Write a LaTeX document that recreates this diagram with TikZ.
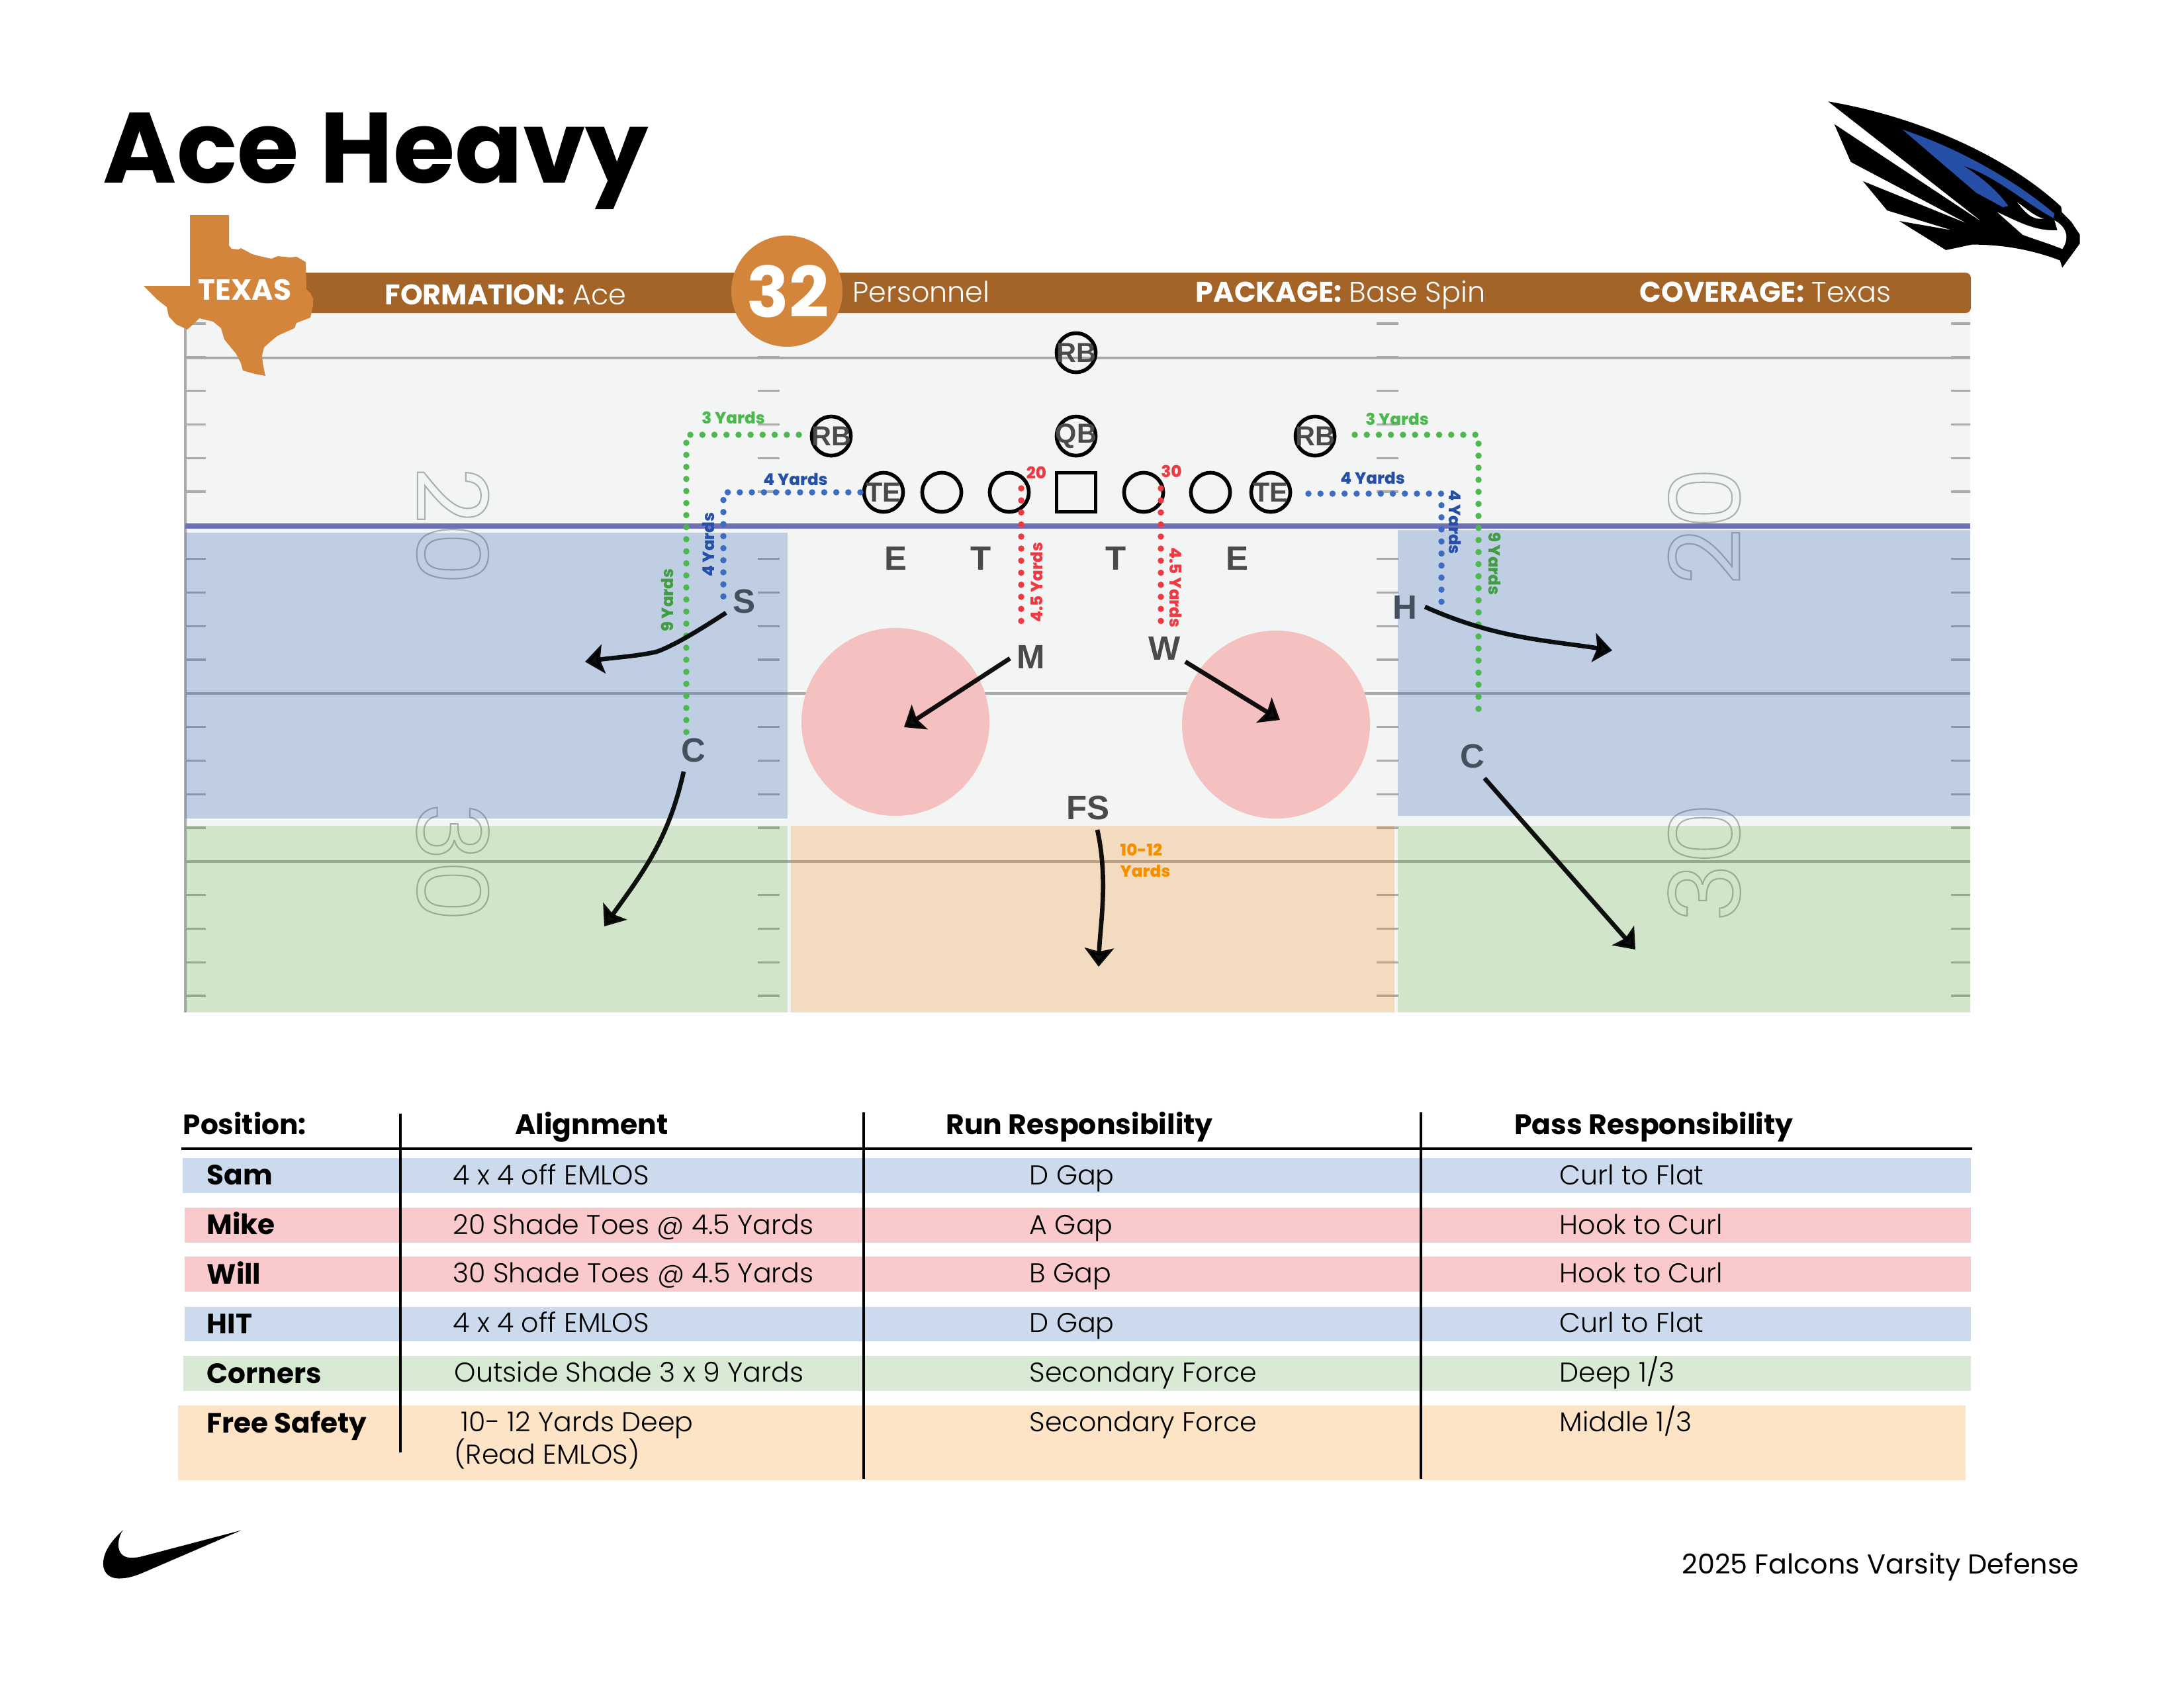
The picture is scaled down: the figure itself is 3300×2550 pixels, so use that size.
\documentclass[tikz,border=0pt]{standalone}
\usepackage{fontspec}
\setmainfont{Poppins}
\newfontfamily\lightfont{Poppins Light}
\newfontfamily\heavyfont{Poppins ExtraBold}
\newfontfamily\markfont{Liberation Sans}
\usetikzlibrary{arrows.meta, shapes.geometric, positioning}
\definecolor{fieldgray}{HTML}{F3F5F5}
\definecolor{linegray}{HTML}{A9ABAB}
\definecolor{headerbrown}{HTML}{A46327}
\definecolor{texasorange}{HTML}{D4853C}
\definecolor{losblue}{HTML}{6F70B5}
\definecolor{zoneblue}{RGB}{47,95,176}
\definecolor{zonegreen}{RGB}{73,165,30}
\definecolor{zoneorange}{RGB}{245,130,0}
\definecolor{zonepink}{HTML}{F5C0C0}
\definecolor{dotgreen}{HTML}{4DB84D}
\definecolor{dotblue}{HTML}{3B6CBF}
\definecolor{dotred}{HTML}{EE3A43}
\definecolor{markgray}{HTML}{4A4A4A}
\definecolor{markslate}{HTML}{45505F}
\definecolor{rowblue}{HTML}{CBDAED}
\definecolor{rowpink}{HTML}{F9C9CC}
\definecolor{rowgreen}{HTML}{D9EAD4}
\definecolor{roworange}{HTML}{FEE4C6}
\definecolor{falconblue}{HTML}{2650A8}
\newcommand{\outlinetext}[1]{\special{pdf:code 1 Tr 0.6 w 0.68 0.69 0.69 RG}#1\special{pdf:code 0 Tr}}
\tikzset{
  player/.style={inner sep=0pt, text=markgray, font=\markfont\bfseries\fontsize{11.8}{13}\selectfont},
  ring/.style={draw=black, line width=1.6pt},
  lineman/.style={circle, ring, minimum size=0.59cm, inner sep=0pt},
  defender/.style={text=markgray, inner sep=0pt, font=\markfont\bfseries\fontsize{14.5}{15}\selectfont},
  zone/.style={fill opacity=#1},
  dotpath/.style={line width=2.7pt, line cap=round, dash pattern=on 0pt off 5.18pt},
  yardtag/.style={inner sep=0pt, font=\heavyfont\fontsize{7}{8}\selectfont},
  fieldnum/.style={inner sep=0pt, transform shape, font=\fontsize{42}{42}\selectfont},
  route/.style={line width=1.9pt, draw=black, draw opacity=0.93, fill opacity=0.93, -{Stealth[length=8pt,width=12.5pt,inset=1.5pt]}},
  headerlabel/.style={anchor=base west, inner sep=0pt, text=white, font=\fontsize{12.2}{14}\selectfont},
  colhead/.style={anchor=base, inner sep=0pt, font=\bfseries\fontsize{12.1}{14}\selectfont},
  rowname/.style={anchor=base west, inner sep=0pt, font=\bfseries\fontsize{12}{14}\selectfont},
  rowtext/.style={anchor=base west, inner sep=0pt, font=\lightfont\fontsize{11.7}{14}\selectfont},
}
\begin{document}
\begin{tikzpicture}[x=0.01cm, y=-0.01cm]
\useasboundingbox (0,0) rectangle (3300,2550);
\node[anchor=base west, inner sep=0pt, font=\bfseries\fontsize{43}{50}\selectfont] (title) at (155,276) {Ace Heavy};
% field
\fill[fieldgray] (280,473) rectangle (2977,1530);
\foreach \yy in {541,1048,1302} {
  \draw[linegray, line width=1.4pt] (280,\yy) -- (2977,\yy);
}
\draw[linegray, line width=1pt] (280,473) -- (280,1530);
\foreach \k in {0,...,20} {
  \draw[linegray, line width=0.9pt] (281,489+50.8*\k) -- (311,489+50.8*\k);
  \draw[linegray, line width=0.9pt] (1145,489+50.8*\k) -- (1178,489+50.8*\k);
  \draw[linegray, line width=0.9pt] (2080,489+50.8*\k) -- (2113,489+50.8*\k);
  \draw[linegray, line width=0.9pt] (2948,489+50.8*\k) -- (2977,489+50.8*\k);
}
\node[fieldnum, rotate=-90] (numa) at (684,795) {\outlinetext{20}};
\node[fieldnum, rotate=-90] (numb) at (684,1303) {\outlinetext{30}};
\node[fieldnum, rotate=90] (numc) at (2575,795) {\outlinetext{20}};
\node[fieldnum, rotate=90] (numd) at (2575,1303) {\outlinetext{30}};
% zones
\fill[zoneblue, zone=0.26] (280,805) rectangle (1190,1237);
\fill[zoneblue, zone=0.26] (2112,801) rectangle (2977,1233);
\fill[zonegreen, zone=0.2] (280,1248) rectangle (1190,1530);
\fill[zoneorange, zone=0.22] (1195,1248) rectangle (2107,1530);
\fill[zonegreen, zone=0.2] (2112,1248) rectangle (2977,1530);
\fill[zonepink] (1353,1091) circle (142);
\fill[zonepink] (1928,1095) circle (142);
\draw[losblue, line width=2.3pt] (280,795) -- (2977,795);
% offense
\foreach \pl/\xx/\yy/\txt in {rbtop/1626/533/RB, qb/1626/659/QB, rbl/1256/659/RB, rbr/1987/659/RB, tel/1335/744/TE, ter/1920/744/TE} {
  \draw[ring] (\xx,\yy) circle (29.5);
  \node[player] (\pl) at (\xx,\yy) {\txt};
}
\node[lineman] (ola) at (1423,744) {};
\node[lineman] (olb) at (1525,744) {};
\node[lineman, rectangle] (ctr) at (1626,744) {};
\node[lineman] (olc) at (1728,744) {};
\node[lineman] (old) at (1829,744) {};
% defense
\node[defender] (dea) at (1353,844) {E};
\node[defender] (dta) at (1482,844) {T};
\node[defender] (dtb) at (1686,844) {T};
\node[defender] (deb) at (1869,844) {E};
\node[defender, text=markslate] (sam) at (1124,909) {S};
\node[defender] (mike) at (1558,993) {M};
\node[defender] (will) at (1760,980) {W};
\node[defender, text=markslate] (hit) at (2123,918) {H};
\node[defender, text=markslate] (cbl) at (1048,1134) {C};
\node[defender, text=markslate] (cbr) at (2225,1143) {C};
\node[defender] (fs) at (1644,1221) {FS};
% alignment marks
\draw[dotpath, dotgreen] (1207,657) -- (1037,657) -- (1037,1110);
\draw[dotpath, dotgreen] (2047,657) -- (2234,657) -- (2234,1080);
\draw[dotpath, dotblue] (1300,744) -- (1093,744) -- (1093,915);
\draw[dotpath, dotblue] (1977,746) -- (2178,746) -- (2178,912);
\draw[dotpath, dotred] (1543,738) -- (1543,956);
\draw[dotpath, dotred] (1754,738) -- (1754,956);
\node[yardtag, text=dotgreen] (tga) at (1108,631) {3 Yards};
\node[yardtag, text=dotgreen] (tgb) at (2111,633) {3 Yards};
\node[yardtag, text=falconblue] (tba) at (1202,724) {4 Yards};
\node[yardtag, text=falconblue] (tbb) at (2074,722) {4 Yards};
\node[yardtag, text=falconblue, rotate=90] (tbc) at (1070,823) {4 Yards};
\node[yardtag, text=falconblue, rotate=-90] (tbd) at (2198,789) {4 Yards};
\node[yardtag, text=dotgreen!85!black, rotate=90] (tgc) at (1008,907) {9 Yards};
\node[yardtag, text=dotgreen!85!black, rotate=-90] (tgd) at (2259,852) {9 Yards};
\node[yardtag, text=dotred, rotate=90] (tra) at (1566,880) {4.5 Yards};
\node[yardtag, text=dotred, rotate=-90] (trb) at (1776,888) {4.5 Yards};
\node[yardtag, text=dotred] (trc) at (1566,714) {20};
\node[yardtag, text=dotred] (trd) at (1770,712) {30};
\node[yardtag, text=zoneorange!90!yellow, anchor=west] (toa) at (1692,1284) {10-12};
\node[yardtag, text=zoneorange!90!yellow, anchor=west] (tob) at (1692,1316) {Yards};
% routes
\coordinate (sambend) at (992,985);
\coordinate (samend) at (884,1000);
\coordinate (mikeend) at (1366,1099);
\coordinate (willend) at (1934,1088);
\coordinate (hitend) at (2436,983);
\coordinate (cblend) at (913,1400);
\coordinate (cbrend) at (2471,1435);
\coordinate (fsend) at (1660,1461);
\draw[route] (1097,926) .. controls (1060,950) and (1020,975) .. (sambend) .. controls (960,992) and (925,994) .. (samend);
\draw[route] (1526,995) -- (mikeend);
\draw[route] (1791,1000) -- (willend);
\draw[route] (2153,917) .. controls (2260,965) and (2340,968) .. (hitend);
\draw[route] (1033,1166) .. controls (1010,1270) and (970,1320) .. (cblend);
\draw[route] (2243,1176) -- (cbrend);
\draw[route] (1658,1254) .. controls (1675,1330) and (1662,1400) .. (fsend);
% header
\fill[headerbrown, rounded corners=2.3pt] (330,412) rectangle (2978,473);
\fill[texasorange] (287,325) -- (346,325) -- (346,371) -- (350,376) -- (360,377) -- (364,375) -- (381,384) -- (392,387) -- (410,391) -- (420,387) -- (438,389) -- (448,388) -- (462,396) -- (463,437) -- (469,443) -- (473,451) -- (473,462) -- (469,480) -- (448,488) -- (445,496) -- (420,507) -- (410,515) -- (399,525) -- (396,537) -- (397,549) -- (401,568) -- (385,565) -- (367,560) -- (364,549) -- (357,535) -- (339,513) -- (334,496) -- (322,486) -- (301,481) -- (294,488) -- (283,498) -- (266,490) -- (255,478) -- (252,464) -- (238,453) -- (217,432) -- (287,432) -- cycle;
\node[text=white, inner sep=0pt, font=\bfseries\fontsize{12.5}{14}\selectfont] (texas) at (370,438) {TEXAS};
\fill[texasorange] (1189,440) circle (84);
\node[text=white, inner sep=0pt, font=\bfseries\fontsize{30}{32}\selectfont] (pers) at (1191,440) {32};
\node[headerlabel] (form) at (581,460) {\textbf{FORMATION:} {\lightfont Ace}};
\node[headerlabel] (persn) at (1288,456) {\lightfont Personnel};
\node[headerlabel] (pack) at (1806,456) {\textbf{PACKAGE:} {\lightfont Base Spin}};
\node[headerlabel] (cov) at (2477,456) {\textbf{COVERAGE:} {\lightfont Texas}};
% falcon
\begin{scope}[shift={(2700,120)}, x=0.003333cm, y=-0.003333cm]
\fill[black] (187,100) .. controls (600,170) and (1000,350) .. (1245,578) -- (1248,603) -- (1290,645) -- (1330,705) -- (1330,745) -- (1250,855) -- (1240,822) .. controls (1130,780) and (1000,750) .. (840,750) -- (722,775) -- (510,643) -- (750,685) -- (455,595) -- (345,462) -- (820,655) -- (290,375) -- (215,203) -- (890,650) -- cycle;
\fill[falconblue] (525,228) .. controls (800,320) and (1050,470) .. (1215,610) -- (1210,630) .. controls (1080,560) and (950,440) .. (800,392) .. controls (880,440) and (960,510) .. (1005,575) -- (980,580) -- (860,515) -- cycle;
\fill[white] (1045,557) .. controls (1090,590) and (1130,625) .. (1165,632) .. controls (1110,640) and (1080,600) .. (1045,557) -- cycle;
\fill[white] (955,603) .. controls (1040,640) and (1120,690) .. (1228,685) -- (1215,640) .. controls (1270,670) and (1285,720) .. (1250,770) .. controls (1190,745) and (1120,725) .. (1070,705) -- cycle;
\end{scope}
% table
\fill[rowblue] (276,1750) rectangle (2978,1803);
\fill[rowpink] (279,1825) rectangle (2978,1878);
\fill[rowpink] (279,1899) rectangle (2978,1952);
\fill[rowblue] (279,1975) rectangle (2978,2027);
\fill[rowgreen] (277,2049) rectangle (2978,2102);
\fill[roworange] (269,2124) rectangle (2970,2237);
\draw[line width=1pt] (274,1736) -- (2980,1736);
\draw[line width=1pt] (605,1683) -- (605,2195);
\draw[line width=1pt] (1305,1681) -- (1305,2235);
\draw[line width=1pt] (2147,1681) -- (2147,2235);
\node[rowname] (hpos) at (276,1714) {Position:};
\node[colhead] (hali) at (894,1714) {Alignment};
\node[colhead] (hrun) at (1631,1714) {Run Responsibility};
\node[colhead] (hpas) at (2499,1714) {Pass Responsibility};
\node[rowname] (rsam) at (312,1790) {Sam};
\node[rowname] (rmik) at (312,1865) {Mike};
\node[rowname] (rwil) at (312,1940) {Will};
\node[rowname] (rhit) at (312,2015) {HIT};
\node[rowname] (rcor) at (312,2090) {Corners};
\node[rowname] (rfre) at (312,2165) {Free Safety};
\node[rowtext] (asam) at (684,1790) {4 x 4 off EMLOS};
\node[rowtext] (amik) at (684,1865) {20 Shade Toes @ 4.5 Yards};
\node[rowtext] (awil) at (684,1938) {30 Shade Toes @ 4.5 Yards};
\node[rowtext] (ahit) at (684,2013) {4 x 4 off EMLOS};
\node[rowtext] (acor) at (686,2088) {Outside Shade 3 x 9 Yards};
\node[rowtext] (afra) at (696,2163) {10- 12 Yards Deep};
\node[rowtext] (afrb) at (686,2212) {(Read EMLOS)};
\node[rowtext] (bsam) at (1555,1790) {D Gap};
\node[rowtext] (bmik) at (1555,1865) {A Gap};
\node[rowtext] (bwil) at (1555,1938) {B Gap};
\node[rowtext] (bhit) at (1555,2013) {D Gap};
\node[rowtext] (bcor) at (1555,2088) {Secondary Force};
\node[rowtext] (bfre) at (1555,2163) {Secondary Force};
\node[rowtext] (csam) at (2356,1790) {Curl to Flat};
\node[rowtext] (cmik) at (2356,1865) {Hook to Curl};
\node[rowtext] (cwil) at (2356,1938) {Hook to Curl};
\node[rowtext] (chit) at (2356,2013) {Curl to Flat};
\node[rowtext] (ccor) at (2356,2088) {Deep 1/3};
\node[rowtext] (cfre) at (2356,2163) {Middle 1/3};
% footer
\begin{scope}[shift={(130,2280)}, x=0.003333cm, y=-0.003333cm]
\fill[black] (168,97) .. controls (110,150) and (78,200) .. (78,250) .. controls (78,295) and (110,317) .. (150,317) .. controls (190,317) and (230,303) .. (260,290) -- (705,98) -- (260,215) .. controls (220,226) and (180,228) .. (160,205) .. controls (135,175) and (150,120) .. (168,97) -- cycle;
\end{scope}
\node[anchor=base east, inner sep=0pt, font=\fontsize{11.75}{13}\selectfont] (foot) at (3142,2378) {2025 Falcons Varsity Defense};
\end{tikzpicture}
\end{document}
